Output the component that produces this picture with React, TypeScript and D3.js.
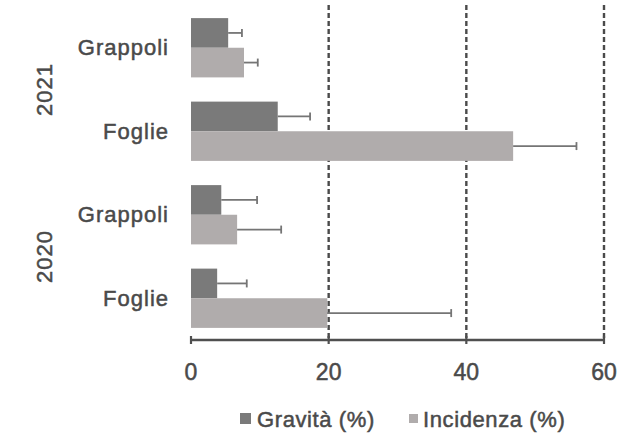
import React from "react";
import * as d3 from "d3";

const categories = ["2021|Grappoli", "2021|Foglie", "2020|Grappoli", "2020|Foglie"];
const organLabels = ["Grappoli", "Foglie", "Grappoli", "Foglie"];
const years = ["2021", "2020"];
const seriesNames = ["Gravità (%)", "Incidenza (%)"];
const gravita = [5.4, 12.6, 4.4, 3.8];
const gravitaErr = [2.0, 4.7, 5.2, 4.3];
const incidenza = [7.7, 46.8, 6.7, 19.8];
const incidenzaErr = [2.0, 9.2, 6.4, 18.0];
const xTicks = [0, 20, 40, 60];

const W = 639, H = 437;
const colors = ["#7a7a7a", "#b0acac"];
const FONT = "Liberation Sans, Arial, sans-serif";
const TEXT = "#4a4a4a";

export default function App() {
  const x = d3.scaleLinear().domain([0, 60]).range([191, 604]);
  const y = d3.scaleBand<string>().domain(categories).range([6, 340]).paddingInner(0.29).paddingOuter(0.145);
  const sub = d3.scaleBand<string>().domain(["g", "i"]).range([0, y.bandwidth()]);
  const series = [
    { key: "g", vals: gravita, errs: gravitaErr },
    { key: "i", vals: incidenza, errs: incidenzaErr },
  ];
  const axisY = 340;
  const textProps = { fontFamily: FONT, fill: TEXT, stroke: TEXT, strokeWidth: 0.5 };
  return (
    <svg width={W} height={H} style={{ position: "absolute", left: 0, top: 0, background: "#fff" }}>
      {xTicks.filter((t) => t > 0).map((t) => (
        <line key={"g" + t} x1={x(t)} x2={x(t)} y1={5} y2={axisY} stroke="#4a4a4a" strokeWidth={2.4} strokeDasharray="5,3" />
      ))}
      {series.map((s, si) =>
        categories.map((c, ci) => (
          <rect key={s.key + c} x={x(0)} y={(y(c) as number) + (sub(s.key) as number)} width={x(s.vals[ci]) - x(0)} height={sub.bandwidth()} fill={colors[si]} />
        ))
      )}
      {series.map((s) =>
        categories.map((c, ci) => {
          const cy = (y(c) as number) + (sub(s.key) as number) + sub.bandwidth() / 2;
          const x1 = x(s.vals[ci]);
          const x2 = x(s.vals[ci] + s.errs[ci]);
          return (
            <g key={"e" + s.key + c} stroke="#757575" strokeWidth={1.8}>
              <line x1={x1} x2={x2} y1={cy} y2={cy} />
              <line x1={x2} x2={x2} y1={cy - 4} y2={cy + 4} />
            </g>
          );
        })
      )}
      <line x1={x(0)} x2={x(60)} y1={axisY} y2={axisY} stroke="#4f4f4f" strokeWidth={2.5} />
      {xTicks.map((t) => (
        <line key={"t" + t} x1={x(t)} x2={x(t)} y1={axisY - 4} y2={axisY + 4} stroke="#4f4f4f" strokeWidth={2.2} />
      ))}
      {xTicks.map((t) => (
        <text key={"l" + t} x={x(t)} y={380} textAnchor="middle" fontSize={23} {...textProps}>{t}</text>
      ))}
      {categories.map((c, ci) => (
        <text key={"c" + c} x={169} y={(y(c) as number) + y.bandwidth() / 2} dy="0.35em" textAnchor="end" fontSize={22} letterSpacing={1} {...textProps}>{organLabels[ci]}</text>
      ))}
      {years.map((yr, i) => {
        const cy = ((y(categories[i * 2]) as number) + (y(categories[i * 2 + 1]) as number) + y.bandwidth()) / 2;
        return (
          <text key={yr} transform={`translate(44,${cy}) rotate(-90)`} dy="0.35em" textAnchor="middle" fontSize={22} letterSpacing={1} {...textProps}>{yr}</text>
        );
      })}
      <rect x={240} y={413} width={11} height={11} fill={colors[0]} />
      <text x={257} y={427} fontSize={22} letterSpacing={0.6} {...textProps}>{seriesNames[0]}</text>
      <rect x={409} y={414} width={9} height={9} fill={colors[1]} />
      <text x={423} y={427} fontSize={22} letterSpacing={0.6} {...textProps}>{seriesNames[1]}</text>
    </svg>
  );
}
